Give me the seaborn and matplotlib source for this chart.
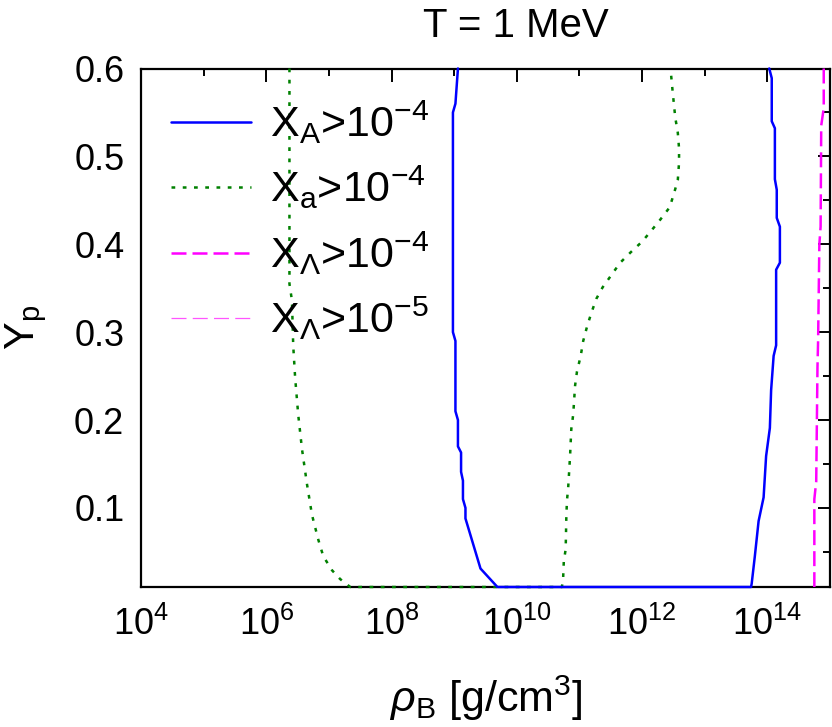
import numpy as np
import pandas as pd
import matplotlib
matplotlib.use("Agg")
import matplotlib.pyplot as plt
import seaborn as sns
from matplotlib.ticker import FixedLocator, NullFormatter

sns.set_theme(style="white")
plt.rcParams['font.family'] = ['Liberation Sans', 'DejaVu Sans']
plt.rcParams['mathtext.fontset'] = 'custom'
plt.rcParams['mathtext.rm'] = 'Liberation Sans'
plt.rcParams['mathtext.it'] = 'Liberation Sans:italic'
plt.rcParams['mathtext.bf'] = 'Liberation Sans:bold'
plt.rcParams['text.color'] = 'black'
plt.rcParams['axes.labelcolor'] = 'black'

# ---- data (log10 of rho_B [g/cm^3], Yp) ----
blue_logrho = [9.06, 9.02, 8.98, 8.98, 9.02, 9.02, 9.06, 9.06, 9.11, 9.11, 9.14, 9.14,
               9.18, 9.18, 9.42, 9.69, 13.74, 13.75, 13.80, 13.86, 13.94, 13.98, 14.04,
               14.06, 14.10, 14.14, 14.14, 14.20, 14.20, 14.15, 14.15, 14.12, 14.12,
               14.07, 14.07, 14.03]
blue_yp = [0.600, 0.560, 0.550, 0.300, 0.290, 0.210, 0.200, 0.170, 0.163, 0.141, 0.131,
           0.110, 0.100, 0.088, 0.031, 0.010, 0.010, 0.014, 0.045, 0.085, 0.112, 0.159,
           0.191, 0.234, 0.273, 0.285, 0.371, 0.379, 0.420, 0.430, 0.462, 0.474, 0.532,
           0.540, 0.589, 0.600]

green_logrho = [6.37, 6.37, 6.41, 6.43, 6.46, 6.51, 6.57, 6.65, 6.73, 6.83, 6.91, 7.05,
                7.18, 7.34, 10.72, 10.74, 10.75, 10.78, 10.79, 10.80, 10.82, 10.85, 10.87,
                10.90, 10.93, 10.96, 11.02, 11.06, 11.12, 11.19, 11.27, 11.37, 11.51,
                11.65, 11.82, 12.00, 12.13, 12.29, 12.44, 12.51, 12.57, 12.59, 12.59,
                12.57, 12.53, 12.49, 12.46, 12.45]
green_yp = [0.600, 0.355, 0.336, 0.285, 0.249, 0.206, 0.167, 0.127, 0.092, 0.064, 0.045,
            0.029, 0.019, 0.010, 0.010, 0.021, 0.039, 0.053, 0.088, 0.108, 0.123, 0.159,
            0.190, 0.206, 0.239, 0.255, 0.273, 0.290, 0.306, 0.322, 0.338, 0.351, 0.365,
            0.379, 0.391, 0.403, 0.414, 0.428, 0.442, 0.458, 0.473, 0.493, 0.509, 0.527,
            0.544, 0.572, 0.595, 0.600]

lam4_logrho = [14.90, 14.90, 14.86, 14.85, 14.83, 14.81, 14.80, 14.78, 14.75, 14.75]
lam4_yp = [0.600, 0.555, 0.535, 0.420, 0.400, 0.290, 0.260, 0.130, 0.110, 0.010]

lam5_logrho = [15.10, 15.10]
lam5_yp = [0.600, 0.010]

labels = [r'X$\mathregular{_{A}}$>10$\mathregular{^{-4}}$',
          r'X$\mathregular{_{a}}$>10$\mathregular{^{-4}}$',
          r'X$_{\Lambda}$>10$\mathregular{^{-4}}$',
          r'X$_{\Lambda}$>10$\mathregular{^{-5}}$']
xtick_exps = [4, 6, 8, 10, 12, 14]
xminor_exps = [5, 7, 9, 11, 13]
ytick_vals = [0.1, 0.2, 0.3, 0.4, 0.5, 0.6]
yminor_vals = [0.05, 0.15, 0.25, 0.35, 0.45, 0.55]

W, H = 832, 727
fig = plt.figure(figsize=(W / 100, H / 100), dpi=100)
ax = fig.add_axes([141 / W, 1 - 587 / H, (830 - 141) / W, (587 - 68.5) / H])

def draw(lx, y, **kw):
    df = pd.DataFrame({'rho': 10 ** np.asarray(lx, float), 'yp': y})
    sns.lineplot(data=df, x='rho', y='yp', sort=False, estimator=None, ax=ax, **kw)

draw(blue_logrho, blue_yp, color='#0000ff', lw=1.8, label=labels[0], clip_on=False, zorder=5)
draw(green_logrho, green_yp, color='#008000', lw=1.8, linestyle=(0, (1.5, 3.0)),
     label=labels[1], clip_on=False, zorder=4)
draw(lam4_logrho, lam4_yp, color='#ff00ff', lw=1.8, linestyle=(0, (6.0, 2.4)),
     label=labels[2], clip_on=False, zorder=4)
draw(lam5_logrho, lam5_yp, color='#ff55ff', lw=0.9, linestyle=(0, (12, 5)), label=labels[3])

ax.set_xscale('log')
ax.set_xlim(1e4, 1e15)
ax.set_ylim(0.01, 0.6)

ax.xaxis.set_major_locator(FixedLocator([10.0 ** e for e in xtick_exps]))
ax.xaxis.set_minor_locator(FixedLocator([10.0 ** e for e in xminor_exps]))
ax.set_xticklabels([r'10$\mathregular{^{%d}}$' % e for e in xtick_exps])
ax.xaxis.set_minor_formatter(NullFormatter())
ax.yaxis.set_major_locator(FixedLocator(ytick_vals))
ax.yaxis.set_minor_locator(FixedLocator(yminor_vals))
ax.set_yticklabels(['%.1f' % v for v in ytick_vals])

ax.tick_params(which='both', direction='in', top=True, right=True, width=1.4, color='black',
               labelsize=26, labelcolor='black')
ax.tick_params(which='major', length=9)
ax.tick_params(which='minor', length=5)
ax.tick_params(axis='x', which='major', pad=14)
ax.tick_params(axis='y', which='major', pad=12)
for s in ax.spines.values():
    s.set_linewidth(1.6)
    s.set_color('black')

ax.set_xlabel(r'$\rho$$\mathregular{_{B}}$ [g/cm$\mathregular{^{3}}$]', fontsize=31, color='black')
ax.set_ylabel(r'Y$\mathregular{_{p}}$', fontsize=30, color='black')
ax.xaxis.set_label_coords(0.5, -0.215)
ax.xaxis.label.set_va('center')
ax.yaxis.set_label_coords(-0.166, 0.5)
ax.yaxis.label.set_va('center')

fig.text(516 / W, 1 - 26 / H, 'T = 1 MeV', fontsize=29, ha='center', va='center', color='black')

leg = ax.legend(loc='upper left', bbox_to_anchor=(0.0, 1.0), frameon=False, fontsize=31,
                handlelength=1.85, handletextpad=0.45, labelspacing=0.42, borderaxespad=0.3)
for t in leg.get_texts():
    t.set_color('black')
ax.grid(False)

fig.savefig('out.png', dpi=100)
